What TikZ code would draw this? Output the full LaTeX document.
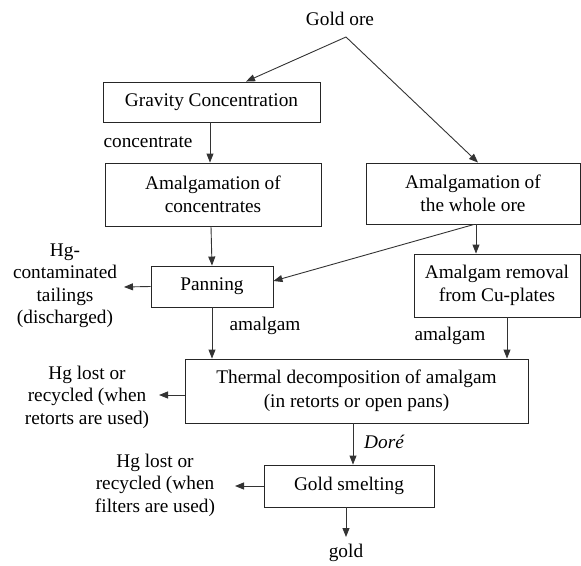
\documentclass[tikz,border=0pt]{standalone}
\usepackage{fontspec}
\setmainfont{Liberation Serif}
\usetikzlibrary{arrows.meta,calc}
\tikzset{
  box/.style={draw=black!85,line width=0.9pt,inner sep=0pt,align=center,font=\fontsize{19.3}{23.5}\selectfont},
  txt/.style={inner sep=0pt,align=center,font=\fontsize{19.3}{22.5}\selectfont},
  arr/.style={draw=black!80,line width=0.9pt,-{Triangle[length=9pt,width=7pt]}}
}
\begin{document}
\begin{tikzpicture}[x=1pt,y=-1pt]
\useasboundingbox (0,0) rectangle (581,565);
% nodes
\node[txt] (ore) at (340,19) {Gold ore};
\coordinate (br) at (346,37);
\node[box,minimum width=217pt,minimum height=40pt] (grav) at (211.5,102) {Gravity Concentration};
\node[box,minimum width=216pt,minimum height=63pt] (conc) at (213,194.5) {Amalgamation of\\concentrates};
\node[box,minimum width=214pt,minimum height=61pt] (whole) at (473,193.5) {Amalgamation of\\the whole ore};
\node[box,minimum width=122pt,minimum height=41pt] (pan) at (212,286.5) {Panning};
\node[box,minimum width=166pt,minimum height=63pt] (rem) at (497,285.5) {Amalgam removal\\from Cu-plates};
\node[box,minimum width=343pt,minimum height=64pt] (therm) at (356.5,391) {Thermal decomposition of amalgam\\(in retorts or open pans)};
\node[box,minimum width=170pt,minimum height=42pt] (smelt) at (349,486) {Gold smelting};
\node[txt] (hgc) at (65,286) {Hg-\\contaminated\\tailings\\(discharged)};
\node[txt] (hg1) at (87,397) {Hg lost or\\recycled (when\\retorts are used)};
\node[txt] (hg2) at (155,485) {Hg lost or\\recycled (when\\filters are used)};
\node[txt] (lconc) at (148,142) {concentrate};
\node[txt] (lam1) at (265,326) {amalgam};
\node[txt] (lam2) at (450,336) {amalgam};
\node[txt,font=\fontsize{19.3}{22.5}\selectfont\itshape] (ldore) at (384,442) {Doré};
\node[txt] (gold) at (346,553) {gold};
% free ends
\coordinate (e1) at (124,287);
\coordinate (e2) at (159,395);
\coordinate (e3) at (235,486);
\coordinate (e4) at (346,537);
% connectors
\draw[arr] (br) -- ([xshift=34.5pt]grav.north);
\draw[arr] (br) -- ([xshift=5pt]whole.north);
\draw[arr] ([xshift=-1.5pt]grav.south) -- ([xshift=-1.5pt]grav.south |- conc.north);
\draw[arr] ([xshift=-2pt]conc.south) -- (pan.north);
\draw[arr] ([xshift=1pt]whole.south) -- ([yshift=5.5pt]pan.east);
\draw[arr] ([xshift=3pt]whole.south) -- ([xshift=3pt]whole.south |- rem.north);
\draw[arr] (pan.west) -- (e1);
\draw[arr] (pan.south) -- (pan.south |- therm.north);
\draw[arr] ([xshift=10pt]rem.south) -- ([xshift=10pt]rem.south |- therm.north);
\draw[arr] ([yshift=-4pt]therm.west) -- (e2);
\draw[arr] ([xshift=-3.5pt]therm.south) -- ([xshift=-3.5pt]therm.south |- smelt.north);
\draw[arr] (smelt.west) -- (e3);
\draw[arr] ([xshift=-3pt]smelt.south) -- (e4);
\end{tikzpicture}
\end{document}
